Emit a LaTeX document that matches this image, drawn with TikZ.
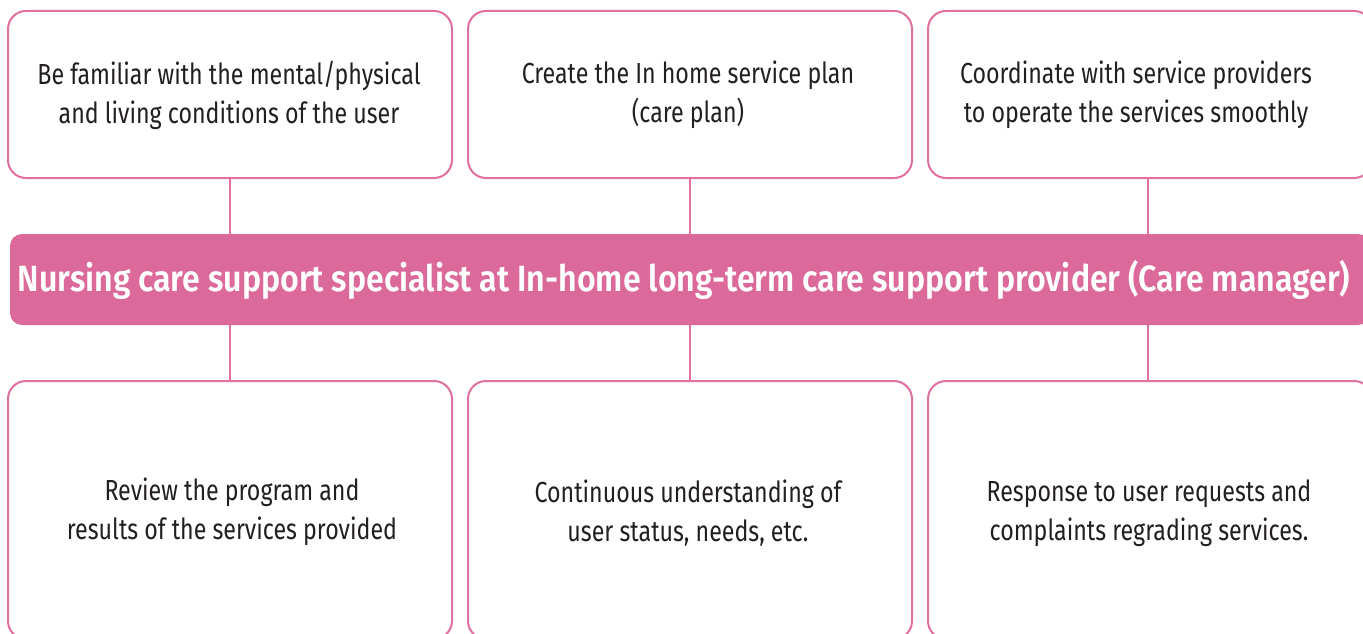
\documentclass[tikz,border=0pt]{standalone}
\usepackage{fontspec}
\setmainfont[FakeStretch=0.80]{Fira Sans}
\newfontfamily\barfont[FakeStretch=0.88]{Fira Sans SemiBold}
\definecolor{pinkline}{HTML}{E0709F}
\definecolor{pinkfill}{HTML}{DB6A9B}
\definecolor{textgray}{HTML}{231F20}
\begin{document}
\begin{tikzpicture}[x=1pt,y=-1pt,
  card/.style={draw=pinkline, line width=2pt, rounded corners=18pt, fill=white, minimum width=444pt, inner sep=0pt},
  topcard/.style={card, minimum height=167pt},
  botcard/.style={card, minimum height=258pt},
  label/.style={text=textgray, font=\fontsize{29}{39}\selectfont, align=center, inner sep=0pt},
  bar/.style={fill=pinkfill, rounded corners=12pt, minimum width=1360pt, minimum height=91pt, inner sep=0pt},
  bartext/.style={text=white, font=\barfont\fontsize{36.5}{40}\selectfont, inner sep=0pt},
  link/.style={draw=pinkline, line width=2pt}]
\useasboundingbox (0,0) rectangle (1363,634);
% top cards
\node[topcard] (t1) at (230,94.5) {};
\node[topcard] (t2) at (690,94.5) {};
\node[topcard] (t3) at (1150,94.5) {};
% bottom cards
\node[botcard] (b1) at (230,510) {};
\node[botcard] (b2) at (690,510) {};
\node[botcard] (b3) at (1150,510) {};
% center bar
\node[bar] (c) at (690,279.5) {};
\node[bartext] (ct) at (684,279.5) {Nursing care support specialist at In-home long-term care support provider (Care manager)};
% connectors
\draw[link] (t1.south) -- (t1.south |- c.north);
\draw[link] (t2.south) -- (t2.south |- c.north);
\draw[link] ([xshift=-2pt]t3.south) -- ([xshift=-2pt]t3.south |- c.north);
\draw[link] (b1.north |- c.south) -- (b1.north);
\draw[link] (b2.north |- c.south) -- (b2.north);
\draw[link] ([xshift=-2pt]b3.north |- c.south) -- ([xshift=-2pt]b3.north);
% texts
\node[label] (l1) at (229,95) {Be familiar with the mental/physical\\and living conditions of the user};
\node[label] (l2) at (688,95) {Create the In home service plan\\(care plan)};
\node[label] (l3) at (1136,95) {Coordinate with service providers\\to operate the services smoothly};
\node[label] (l4) at (232,512) {Review the program and\\results of the services provided};
\node[label] (l5) at (688,513) {Continuous understanding of\\user status, needs, etc.};
\node[label] (l6) at (1149,513) {Response to user requests and\\complaints regrading services.};
\end{tikzpicture}
\end{document}
